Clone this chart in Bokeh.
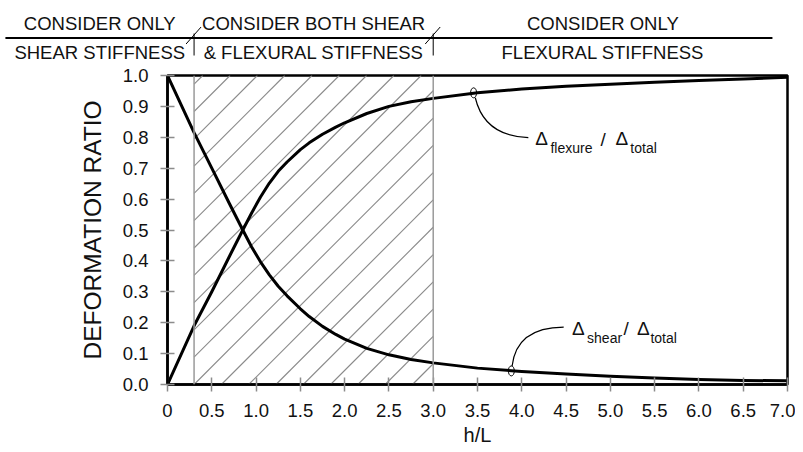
from bokeh.plotting import figure
from bokeh.layouts import column
from bokeh.models import (Range1d, FixedTicker, NumeralTickFormatter,
                          CustomJSTickFormatter, Span)
from bokeh.core.properties import value
from bokeh.embed import file_html
from bokeh.resources import INLINE

# ---------------- data ----------------
h_over_L = [0.0, 0.3, 0.5, 0.7, 0.85, 0.95, 1.05, 1.15, 1.25, 1.35, 1.5, 1.6,
            1.75, 1.9, 2.0, 2.25, 2.5, 2.75, 3.0, 3.5, 4.0, 4.5, 5.0, 5.5,
            6.0, 6.5, 7.0]
shear_ratio = [1.0, 0.815, 0.70, 0.585, 0.50, 0.445, 0.397, 0.355, 0.318,
               0.287, 0.245, 0.22, 0.188, 0.162, 0.147, 0.117, 0.096, 0.081,
               0.070, 0.053, 0.042, 0.034, 0.027, 0.021, 0.016, 0.013, 0.012]
flexure_ratio = [0.0, 0.19, 0.30, 0.415, 0.50, 0.555, 0.607, 0.652, 0.69,
                 0.72, 0.76, 0.782, 0.81, 0.833, 0.847, 0.877, 0.90, 0.915,
                 0.926, 0.944, 0.956, 0.965, 0.972, 0.978, 0.984, 0.989, 0.994]

zone_bounds = [0.3, 3.0]
x_ticks = [0, 0.5, 1.0, 1.5, 2.0, 2.5, 3.0, 3.5, 4.0, 4.5, 5.0, 5.5, 6.0, 6.5, 7.0]
y_ticks = [0.0, 0.1, 0.2, 0.3, 0.4, 0.5, 0.6, 0.7, 0.8, 0.9, 1.0]
x_limits = [0, 7]
y_limits = [0, 1]

header_top = ["CONSIDER ONLY", "CONSIDER BOTH SHEAR", "CONSIDER ONLY"]
header_bottom = ["SHEAR STIFFNESS", "& FLEXURAL STIFFNESS", "FLEXURAL STIFFNESS"]
header_extent = [-1.83, 6.83]

# callout markers on the curves and their leader curves
marker_x = [3.456, 3.882]
marker_y = [0.944, 0.044]
leader_x0 = [3.475, 3.890]
leader_y0 = [0.928, 0.059]
leader_cx = [3.577, 3.939]
leader_cy = [0.804, 0.185]
leader_x1 = [4.074, 4.473]
leader_y1 = [0.799, 0.186]

# callout texts: large symbols and subscripts
big_text = ["\u0394", "/", "\u0394", "\u0394", "/", "\u0394"]
big_x = [4.153, 4.888, 5.057, 4.568, 5.148, 5.302]
big_y = [0.796, 0.794, 0.796, 0.181, 0.181, 0.181]
sub_text = ["flexure", "total", "shear", "total"]
sub_x = [4.323, 5.226, 4.737, 5.452]
sub_y = [0.765, 0.765, 0.151, 0.151]

x_title = "h/L"
y_title = "DEFORMATION RATIO"

# ---------------- layout / style ----------------
FONT = "Liberation Sans"
W = 795
FRAME_LEFT = 167
FRAME_RIGHT_PAD = 8
HEADER_H = 64
MAIN_TOP = 11
FRAME_H = 309
TOTAL_H = 451
MAIN_H = TOTAL_H - HEADER_H
MAIN_BOTTOM = MAIN_H - MAIN_TOP - FRAME_H
FRAME_W = W - FRAME_LEFT - FRAME_RIGHT_PAD
ppu_x = FRAME_W / (x_limits[1] - x_limits[0])
ppu_y = FRAME_H / (y_limits[1] - y_limits[0])
HATCH_GAP_PX = 27.3

# ---------------- header ----------------
hdr = figure(width=W, height=HEADER_H,
             x_range=Range1d(x_limits[0] - FRAME_LEFT / ppu_x,
                             x_limits[0] + (W - FRAME_LEFT) / ppu_x),
             y_range=Range1d(HEADER_H, 0),
             toolbar_location=None, output_backend="svg",
             x_axis_type=None, y_axis_type=None, min_border=0,
             min_border_left=0, min_border_right=0, min_border_top=0,
             min_border_bottom=0, outline_line_color=None)
hdr.frame_align = False

edges = [header_extent[0]] + zone_bounds + [header_extent[1]]
centers = [(edges[i] + edges[i + 1]) / 2 for i in range(3)]

hdr.segment(x0=[header_extent[0]], y0=[37.5], x1=[header_extent[1]], y1=[37.5],
            line_color="black", line_width=1.8)
hdr.segment(x0=zone_bounds, y0=[33, 33], x1=zone_bounds, y1=[55, 55],
            line_color="black", line_width=1)
hdr.segment(x0=[zb - 8 / ppu_x for zb in zone_bounds], y0=[43.5, 43.5],
            x1=[zb + 7 / ppu_x for zb in zone_bounds], y1=[26.5, 26.5],
            line_color="black", line_width=1)
hdr.text(x=centers, y=[22.9] * 3, text=header_top, text_align="center",
         text_baseline="middle", text_font=value(FONT),
         text_font_size="18.5px", text_color="#111111")
hdr.text(x=centers, y=[52.4] * 3, text=header_bottom, text_align="center",
         text_baseline="middle", text_font=value(FONT),
         text_font_size="18.5px", text_color="#111111")

# ---------------- main plot ----------------
p = figure(width=W, height=MAIN_H,
           x_range=Range1d(*x_limits), y_range=Range1d(*y_limits),
           toolbar_location=None, output_backend="svg",
           min_border_left=FRAME_LEFT, min_border_right=FRAME_RIGHT_PAD,
           min_border_top=MAIN_TOP, min_border_bottom=MAIN_BOTTOM)
p.frame_align = False
p.grid.visible = False
p.outline_line_color = "black"
p.outline_line_width = 2.5
p.outline_line_alpha = 1.0

# 45-degree hatch inside the "both" zone, clipped to the zone rectangle
a, b = zone_bounds
k = ppu_x / ppu_y                   # data slope of a 45-degree screen line
run = (y_limits[1] - y_limits[0]) / k
gap = HATCH_GAP_PX / ppu_x
hx0, hy0, hx1, hy1 = [], [], [], []
n = -int(run / gap) - 1
while a + n * gap < b:
    c = a + n * gap
    xs = max(a, c)
    xe = min(b, c + run)
    if xe > xs:
        hx0.append(xs); hy0.append(y_limits[0] + (xs - c) * k)
        hx1.append(xe); hy1.append(y_limits[0] + (xe - c) * k)
    n += 1
p.segment(x0=hx0, y0=hy0, x1=hx1, y1=hy1, line_color="#8a8a8a",
          line_width=1.1)
for zb in zone_bounds:
    p.add_layout(Span(location=zb, dimension="height", line_color="#9a9a9a",
                      line_width=1.5))

p.line(h_over_L, shear_ratio, line_width=3, line_color="black", line_join="round")
p.line(h_over_L, flexure_ratio, line_width=3, line_color="black", line_join="round")

p.quadratic(x0=leader_x0, y0=leader_y0, x1=leader_x1, y1=leader_y1,
            cx=leader_cx, cy=leader_cy, line_color="black", line_width=1.2)
p.ellipse(x=marker_x, y=marker_y, width=6, height=10, width_units="screen",
          height_units="screen", fill_color=None, line_color="black",
          line_width=1)

p.text(x=big_x, y=big_y, text=big_text, text_align="left",
       text_baseline="alphabetic", text_font=value(FONT),
       text_font_size="19px", text_color="#111111")
p.text(x=sub_x, y=sub_y, text=sub_text, text_align="left",
       text_baseline="alphabetic", text_font=value(FONT),
       text_font_size="14px", text_color="#111111")

p.xaxis.ticker = FixedTicker(ticks=x_ticks)
p.xaxis.formatter = CustomJSTickFormatter(
    code="return tick == 0 ? '0' : tick.toFixed(1);")
p.yaxis.ticker = FixedTicker(ticks=y_ticks)
p.yaxis.formatter = NumeralTickFormatter(format="0.0")

for ax in p.axis:
    ax.axis_line_color = "black"
    ax.axis_line_width = 2.5
    ax.major_tick_line_color = "#8c8c8c"
    ax.major_tick_line_width = 1.5
    ax.major_tick_in = 7
    ax.major_tick_out = 7
    ax.minor_tick_line_color = None
    ax.major_label_text_font = FONT
    ax.major_label_text_font_size = "18.5px"
    ax.major_label_text_color = "#111111"
    ax.axis_label_text_font = FONT
    ax.axis_label_text_font_style = "normal"
    ax.axis_label_text_color = "#111111"
p.xaxis.major_label_standoff = 12
p.yaxis.major_label_standoff = 12

p.yaxis.axis_label = y_title
p.yaxis.axis_label_text_font_size = "24.5px"
p.yaxis.axis_label_standoff = 14

p.xaxis.axis_label = x_title
p.xaxis.axis_label_text_font_size = "20px"
p.xaxis.axis_label_standoff = 4

layout = column(hdr, p, spacing=0)
open("out.html", "w").write(file_html(layout, INLINE))
